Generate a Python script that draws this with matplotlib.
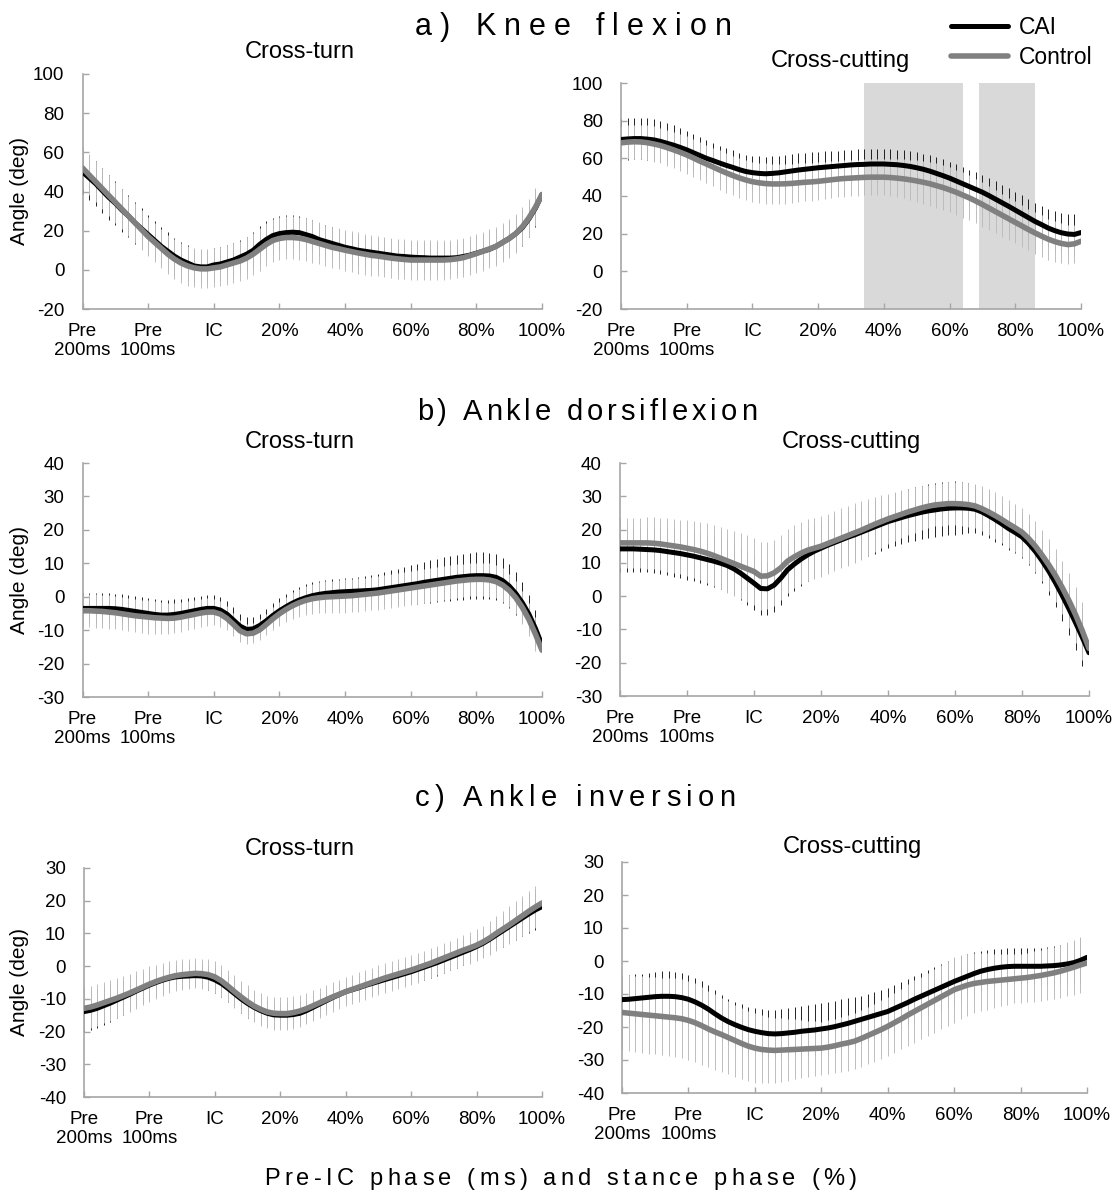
import numpy as np
import matplotlib
matplotlib.use('Agg')
import matplotlib.pyplot as plt

W, H = 1120, 1195

# x axis: pre-IC time (ms) every 10 ms, then stance phase (%) every 2 %
pre_ms = list(range(-200, 1, 10))
stance_pct = list(range(2, 101, 2))
tick_labels = ['Pre\n200ms', 'Pre\n100ms', 'IC', '20%', '40%', '60%', '80%', '100%']

# ---- a) knee flexion, cross-turn
knee_turn_cai = [50, 47, 44, 40.5, 37, 34, 30.5, 27.5, 24, 21, 18, 15, 12, 9.5, 7, 5, 3.5, 2, 1.5, 1.5, 2.5,
                 3, 4, 5, 6.5, 8, 10, 13, 15.5, 17.5, 18.5, 19, 19.2, 19, 18, 17, 15.5, 14.5, 13.5, 12.5, 11.5,
                 10.8, 10, 9.5, 9, 8.5, 8, 7.5, 7, 6.8, 6.5, 6.3, 6.2, 6, 6, 6, 6, 6.2, 6.8, 7.5, 8.5,
                 9.5, 10.5, 12, 14, 16, 18.5, 21.5, 26, 31.5, 38.5]
knee_turn_cai_sd = [11.5, 11.5, 11.5, 11.4, 11.3, 11.2, 11, 10.8, 10.6, 10.4, 10.2, 10, 9.8, 9.6, 9.4, 9.2, 9, 8.8, 8.6, 8.5, 8.5,
                    8.5, 8.5, 8.6, 8.8, 9, 9.2, 9.3, 9.3, 9.2, 9, 8.9, 8.8, 8.7, 8.6, 8.5, 8.4, 8.3, 8.2, 8.1, 8,
                    8, 8, 8, 8, 8, 8, 8, 8, 8, 8, 8, 8, 8, 8, 8, 8.1, 8.2, 8.3, 8.4, 8.5,
                    8.6, 8.7, 8.8, 8.9, 9, 9.1, 9.2, 9.3, 9.4, 9.5]
knee_turn_ctl = [52, 48.5, 45, 41.5, 38, 34.5, 31, 27.5, 24, 20.5, 17, 14, 11, 8, 5.5, 3.5, 2, 1, 0.5, 0.5, 1,
                 1.5, 2.5, 3.5, 4.5, 6, 8, 10.5, 13, 15, 16, 16.5, 16.5, 16.2, 15.5, 14.5, 13.5, 12.5, 11.5, 10.8, 10,
                 9.3, 8.6, 8, 7.4, 7, 6.5, 6, 5.6, 5.3, 5, 5, 5, 5, 5, 5, 5.2, 5.6, 6.2, 7.2, 8.3,
                 9.5, 10.7, 12, 14, 16, 18.5, 22, 26.5, 32, 38.5]
knee_turn_ctl_sd = [10.5, 10.5, 10.5, 10.5, 10.4, 10.4, 10.3, 10.3, 10.2, 10.2, 10.1, 10.1, 10, 10, 10, 10, 10, 10, 10, 10, 10,
                    10, 10, 10.2, 10.4, 10.6, 10.8, 11, 11, 11, 11, 11, 11, 11, 10.9, 10.8, 10.7, 10.6, 10.5, 10.5, 10.5,
                    10.5, 10.5, 10.5, 10.4, 10.4, 10.3, 10.3, 10.2, 10.2, 10.2, 10.2, 10.1, 10.1, 10, 10, 10, 10, 10, 10, 10,
                    10, 10, 10, 10, 10, 10, 9.9, 9.8, 9.7, 9.6]

# ---- a) knee flexion, cross-cutting
knee_cut_cai = [70, 70.3, 70.5, 70.5, 70.2, 69.8, 69, 68, 67, 65.8, 64.5, 63, 61.5, 60, 58.8, 57.5, 56.3, 55.2, 54, 53, 52.4,
                52, 51.8, 52, 52.3, 52.8, 53.3, 53.8, 54.2, 54.6, 55, 55.3, 55.6, 55.9, 56.2, 56.5, 56.7, 56.8, 57, 57, 57,
                56.8, 56.6, 56.2, 55.7, 55, 54.2, 53.2, 52, 50.8, 49.5, 48, 46.5, 45, 43.5, 42, 40.2, 38.3, 36.4, 34.5, 32.5,
                30.5, 28.5, 26.5, 24.8, 23, 21.6, 20.5, 19.8, 19.6, 20.6]
knee_cut_cai_sd = [11, 11, 11, 11, 11, 11, 10.9, 10.8, 10.6, 10.4, 10.2, 10, 9.8, 9.6, 9.4, 9.3, 9.2, 9.1, 9, 9, 9,
                   9, 9, 9, 9, 9, 8.9, 8.8, 8.7, 8.6, 8.5, 8.4, 8.3, 8.2, 8.1, 8, 8, 8, 8, 8, 8,
                   8, 8, 8, 8.1, 8.2, 8.3, 8.4, 8.5, 8.6, 8.7, 8.8, 8.9, 9, 9.1, 9.2, 9.3, 9.4, 9.5, 9.6, 9.7,
                   9.8, 9.9, 10, 10, 10, 10.2, 10.4, 10.6, 10.8, 11]
knee_cut_ctl = [68.2, 68.6, 68.8, 68.7, 68.3, 67.6, 66.8, 65.7, 64.5, 63.2, 61.8, 60.2, 58.5, 57, 55.4, 53.8, 52.3, 50.9, 49.6, 48.5, 47.6,
                47, 46.6, 46.4, 46.4, 46.5, 46.7, 47, 47.3, 47.5, 47.8, 48.2, 48.6, 49, 49.3, 49.5, 49.7, 49.9, 50, 50, 50,
                49.8, 49.5, 49.1, 48.6, 48, 47.3, 46.5, 45.5, 44.5, 43.3, 42, 40.5, 39, 37.3, 35.5, 33.6, 31.7, 29.8, 27.9, 26,
                24.1, 22.2, 20.4, 18.7, 17.1, 15.8, 14.8, 14.2, 14.6, 16]
knee_cut_ctl_sd = [9, 9, 9.1, 9.2, 9.3, 9.4, 9.5, 9.6, 9.7, 9.8, 9.9, 10, 10.1, 10.2, 10.3, 10.4, 10.5, 10.6, 10.7, 10.7, 10.7,
                   10.7, 10.7, 10.7, 10.6, 10.5, 10.4, 10.3, 10.2, 10.1, 10, 9.9, 9.8, 9.7, 9.6, 9.5, 9.5, 9.5, 9.5, 9.6, 9.7,
                   9.9, 10.1, 10.4, 10.7, 11, 11.3, 11.6, 11.8, 12, 12, 12, 12, 11.9, 11.8, 11.7, 11.6, 11.5, 11.4, 11.3, 11.2,
                   11.1, 11, 11, 11, 10.9, 10.8, 10.6, 10.4, 10.2, 10]
# stance-phase ranges (%) with a significant group difference
knee_cut_sig = [(34, 64), (69, 86)]

# ---- b) ankle dorsiflexion, cross-turn
dors_turn_cai = [-3.5, -3.5, -3.5, -3.5, -3.5, -3.6, -3.8, -4.1, -4.4, -4.7, -5, -5.3, -5.5, -5.5, -5.3, -5, -4.6, -4.2, -3.8, -3.5, -3.5,
                 -4, -5.2, -7, -8.8, -9.8, -9.6, -8.6, -7.2, -5.6, -4.2, -3, -1.9, -1, -0.3, 0.3, 0.7, 1, 1.2, 1.4, 1.5,
                 1.6, 1.7, 1.8, 1.9, 2.1, 2.4, 2.7, 3, 3.3, 3.6, 3.9, 4.3, 4.6, 4.9, 5.2, 5.5, 5.8, 6, 6.2, 6.3,
                 6.3, 6.2, 5.8, 4.8, 3.2, 1, -1.8, -5.2, -9.5, -14.5]
dors_turn_cai_sd = [4.5, 4.5, 4.5, 4.5, 4.5, 4.5, 4.5, 4.5, 4.5, 4.5, 4.5, 4.5, 4.5, 4.5, 4.5, 4.4, 4.3, 4.2, 4.1, 4, 4,
                    4, 3.9, 3.8, 3.7, 3.6, 3.5, 3.5, 3.5, 3.6, 3.7, 3.8, 3.9, 4, 4, 4, 4, 4, 4, 4, 4,
                    4.1, 4.2, 4.4, 4.6, 4.8, 5, 5.2, 5.4, 5.6, 5.8, 6, 6.2, 6.4, 6.5, 6.6, 6.7, 6.8, 6.9, 7, 7,
                    7, 7, 6.9, 6.8, 6.6, 6.4, 6.1, 5.8, 5.4, 5]
dors_turn_ctl = [-4.2, -4.2, -4.3, -4.4, -4.6, -4.8, -5.1, -5.4, -5.7, -5.9, -6.1, -6.3, -6.4, -6.5, -6.4, -6.1, -5.7, -5.3, -4.9, -4.6, -4.6,
                 -5.2, -6.5, -8.3, -10.2, -11.1, -10.9, -9.9, -8.3, -6.6, -5.1, -3.8, -2.7, -1.8, -1.1, -0.6, -0.3, -0.1, 0, 0.1, 0.2,
                 0.3, 0.5, 0.7, 0.9, 1.1, 1.4, 1.7, 2, 2.3, 2.6, 2.9, 3.2, 3.5, 3.8, 4.1, 4.4, 4.7, 4.9, 5.1, 5.2,
                 5.2, 5, 4.5, 3.5, 1.9, -0.3, -3.2, -6.8, -11.2, -16]
dors_turn_ctl_sd = [5, 5, 5, 5, 5, 5, 5, 5, 5, 5, 5, 4.9, 4.8, 4.7, 4.6, 4.5, 4.4, 4.3, 4.2, 4.1, 4,
                    3.8, 3.6, 3.4, 3.2, 3, 3, 3.1, 3.2, 3.4, 3.6, 3.8, 4, 4.2, 4.4, 4.5, 4.6, 4.7, 4.8, 4.9, 5,
                    5, 5, 5, 5, 5, 5, 5, 5, 5, 5, 5, 5, 5, 5, 5, 5, 5, 5, 5, 5,
                    5, 5, 5, 5, 5, 5, 5, 5, 5, 5]

# ---- b) ankle dorsiflexion, cross-cutting
dors_cut_cai = [14.2, 14.2, 14.2, 14.1, 14, 13.9, 13.7, 13.4, 13.1, 12.8, 12.4, 12, 11.5, 11, 10.5, 9.9, 9.2, 8.2, 6.9, 5.4, 3.9,
                2.3, 2.2, 3.3, 5.4, 7.9, 9.6, 11.1, 12.4, 13.5, 14.4, 15.3, 16.1, 16.9, 17.7, 18.4, 19.2, 20, 20.8, 21.6, 22.4,
                23, 23.6, 24.2, 24.7, 25.2, 25.6, 25.9, 26.2, 26.4, 26.5, 26.5, 26.4, 26.1, 25.3, 24.2, 23, 21.7, 20.3, 19.1, 17.8,
                15.8, 13.4, 10.6, 7.5, 4, 0.2, -3.8, -8, -12.4, -17]
dors_cut_cai_sd = [6.8, 6.8, 6.8, 6.8, 6.8, 6.9, 7, 7.1, 7.2, 7.3, 7.4, 7.5, 7.6, 7.7, 7.8, 7.9, 8, 8, 8, 8, 8,
                   8, 8, 8, 8, 8, 8, 8, 8, 8, 8, 8, 8, 8, 8, 8, 8, 8, 8, 8, 8,
                   8, 8, 8, 8, 8, 8, 8, 8, 8, 8, 7.8, 7.5, 7.2, 7, 6.8, 6.6, 6.4, 6.3, 6.2, 6.2,
                   6.3, 6.5, 6.8, 7.1, 7.4, 7.7, 8, 8.3, 8.5, 8.7]
dors_cut_ctl = [16, 16, 16, 16, 16, 15.9, 15.7, 15.4, 15.1, 14.8, 14.4, 14, 13.5, 12.9, 12.2, 11.4, 10.6, 9.8, 9, 8.2, 7.4,
                6, 6.1, 7, 8.5, 10.5, 11.8, 12.9, 13.8, 14.4, 15, 15.8, 16.6, 17.4, 18.2, 19, 19.8, 20.7, 21.6, 22.4, 23.2,
                23.9, 24.6, 25.3, 25.9, 26.5, 27, 27.4, 27.6, 27.8, 27.8, 27.7, 27.5, 27.1, 26.3, 25.3, 24.2, 23, 21.7, 20.5, 19.2,
                17.3, 15, 12.3, 9.4, 6.2, 2.6, -1.3, -5.6, -10.4, -15.7]
dors_cut_ctl_sd = [7.5, 7.5, 7.5, 7.6, 7.7, 7.8, 7.9, 8, 8.1, 8.2, 8.4, 8.6, 8.8, 9, 9.2, 9.4, 9.6, 9.8, 10, 10.1, 10.2,
                   10.2, 10.1, 10, 9.8, 9.6, 9.5, 9.4, 9.3, 9.2, 9.1, 9, 9, 9, 9, 9, 8.8, 8.5, 8.2, 7.9, 7.6,
                   7.4, 7.2, 7, 6.8, 6.6, 6.5, 6.4, 6.4, 6.4, 6.4, 6.5, 6.6, 6.7, 6.8, 6.9, 7, 7.1, 7.2, 7.3, 7.4,
                   7.5, 7.6, 7.7, 7.8, 7.9, 8, 8.2, 8.4, 8.7, 9]

# ---- c) ankle inversion, cross-turn
inv_turn_cai = [-13.9, -13.5, -12.9, -12.1, -11.3, -10.4, -9.5, -8.6, -7.6, -6.7, -5.8, -5, -4.3, -3.7, -3.3, -3.1, -3, -2.9, -3, -3.4, -4.2,
                -5.3, -6.8, -8.4, -10, -11.4, -12.6, -13.6, -14.4, -14.9, -15, -15, -14.8, -14.4, -13.6, -12.6, -11.6, -10.6, -9.6, -8.7, -7.8,
                -7.2, -6.6, -5.9, -5.3, -4.7, -4.1, -3.5, -2.9, -2.3, -1.7, -1, -0.3, 0.4, 1.1, 1.9, 2.7, 3.5, 4.3, 5.1, 6,
                7, 8.2, 9.5, 10.8, 12.1, 13.4, 14.7, 16, 17.2, 18.2]
inv_turn_cai_sd = [6.2, 6.1, 6, 5.9, 5.8, 5.6, 5.4, 5.2, 5, 4.8, 4.6, 4.4, 4.2, 4, 3.8, 3.7, 3.6, 3.6, 3.7, 3.8, 3.9,
                   4, 4.1, 4.2, 4.3, 4.3, 4.3, 4.2, 4.1, 4, 3.9, 3.8, 3.7, 3.6, 3.5, 3.5, 3.5, 3.5, 3.5, 3.5, 3.5,
                   3.5, 3.5, 3.5, 3.5, 3.5, 3.5, 3.5, 3.6, 3.7, 3.8, 3.9, 4, 4, 4, 4, 4, 4, 4, 4, 4,
                   4.2, 4.4, 4.6, 4.8, 5, 5.3, 5.6, 5.9, 6.2, 6.5]
inv_turn_ctl = [-12.9, -12.5, -11.9, -11.2, -10.5, -9.8, -9, -8.2, -7.3, -6.4, -5.5, -4.7, -4, -3.4, -2.9, -2.6, -2.4, -2.2, -2.3, -2.6, -3.3,
                -4.5, -6.1, -7.8, -9.4, -10.9, -12.2, -13.2, -14, -14.4, -14.5, -14.5, -14.2, -13.7, -13, -12.1, -11.2, -10.3, -9.4, -8.6, -7.8,
                -7.1, -6.4, -5.7, -5, -4.3, -3.6, -3, -2.4, -1.8, -1.2, -0.5, 0.2, 0.9, 1.7, 2.5, 3.3, 4.1, 4.9, 5.6, 6.4,
                7.4, 8.6, 10, 11.3, 12.6, 14, 15.4, 16.8, 18.1, 19.3]
inv_turn_ctl_sd = [6.6, 6.5, 6.4, 6.3, 6.2, 6.1, 6, 5.9, 5.8, 5.6, 5.4, 5.2, 5, 4.9, 4.8, 4.7, 4.6, 4.6, 4.6, 4.7, 4.8,
                   4.9, 5, 5, 5, 5, 5, 5, 5, 5, 5, 5, 5, 4.9, 4.8, 4.7, 4.6, 4.5, 4.5, 4.5, 4.5,
                   4.5, 4.5, 4.5, 4.5, 4.5, 4.5, 4.5, 4.5, 4.5, 4.5, 4.5, 4.5, 4.5, 4.5, 4.5, 4.5, 4.6, 4.7, 4.8, 4.9,
                   5, 5.1, 5.3, 5.5, 5.7, 5.9, 6.1, 6.3, 6.5, 6.7]

# ---- c) ankle inversion, cross-cutting
inv_cut_cai = [-11.7, -11.6, -11.4, -11.2, -11, -10.8, -10.7, -10.7, -10.8, -11.1, -11.6, -12.4, -13.4, -14.6, -16, -17.3, -18.4, -19.3, -20.1, -20.8, -21.3,
               -21.7, -22, -22.1, -22, -21.8, -21.6, -21.3, -21.1, -20.9, -20.6, -20.3, -19.9, -19.4, -18.9, -18.3, -17.7, -17.1, -16.5, -15.9, -15.3,
               -14.4, -13.5, -12.6, -11.6, -10.7, -9.8, -8.9, -8, -7.1, -6.2, -5.4, -4.6, -3.8, -3.1, -2.6, -2.2, -1.9, -1.7, -1.6, -1.6,
               -1.6, -1.6, -1.6, -1.5, -1.4, -1.2, -0.9, -0.5, 0.2, 1.1]
inv_cut_cai_sd = [7.3, 7.3, 7.4, 7.4, 7.5, 7.5, 7.6, 7.6, 7.6, 7.6, 7.5, 7.4, 7.3, 7.2, 7.1, 7, 7, 7, 7, 7, 7,
                  7.1, 7.2, 7.3, 7.4, 7.5, 7.6, 7.7, 7.8, 7.9, 8, 8, 7.9, 7.8, 7.6, 7.4, 7.2, 7.1, 7, 7, 7,
                  7, 7, 7, 7, 7, 7, 7, 7, 7, 7, 6.8, 6.6, 6.4, 6.2, 6, 5.8, 5.6, 5.5, 5.5, 5.5,
                  5.5, 5.5, 5.6, 5.7, 5.9, 6.1, 6.3, 6.5, 6.8, 7.1]
inv_cut_ctl = [-15.6, -15.8, -16, -16.2, -16.4, -16.6, -16.8, -17, -17.2, -17.5, -18, -18.7, -19.6, -20.6, -21.5, -22.3, -23.2, -24.1, -25, -25.8, -26.4,
               -26.8, -27, -27.1, -27, -26.9, -26.8, -26.7, -26.6, -26.5, -26.4, -26.1, -25.7, -25.2, -24.8, -24.3, -23.5, -22.6, -21.7, -20.8, -19.8,
               -18.7, -17.6, -16.4, -15.3, -14.2, -13.1, -12, -10.9, -9.8, -8.7, -8, -7.3, -6.8, -6.5, -6.2, -6, -5.8, -5.6, -5.4, -5.2,
               -5, -4.7, -4.4, -4, -3.6, -3.1, -2.5, -1.9, -1.2, -0.6]
inv_cut_ctl_sd = [11.5, 11.5, 11.6, 11.6, 11.7, 11.7, 11.8, 11.8, 11.9, 11.9, 12, 11.9, 11.8, 11.6, 11.4, 11.2, 11, 10.9, 10.8, 10.6, 10.5,
                  10.3, 10.1, 9.9, 9.7, 9.4, 9.1, 8.8, 8.5, 8.2, 8, 8.1, 8.2, 8.3, 8.4, 8.5, 8.6, 8.7, 8.8, 8.9, 9,
                  9.1, 9.2, 9.3, 9.4, 9.5, 9.6, 9.7, 9.8, 9.9, 10, 9.7, 9.4, 9.1, 8.8, 8.5, 8.2, 7.9, 7.6, 7.4, 7.4,
                  7.5, 7.6, 7.7, 7.8, 7.9, 8, 8.2, 8.3, 8.5, 8.6]

FONT = ['Liberation Sans', 'DejaVu Sans']
NARROW = ['Liberation Sans Narrow', 'Liberation Sans', 'DejaVu Sans']
plt.rcParams['font.family'] = FONT
plt.rcParams['axes.unicode_minus'] = False

CAI_COL = 'black'
CTL_COL = '#808080'
CTL_BAR = '#bdbdbd'
AXIS_COL = '#a6a6a6'


def stance_to_pos(p):
    return 2 + p / 20.0


x = np.array([(m + 200) / 100.0 for m in pre_ms] + [stance_to_pos(p) for p in stance_pct])


def add_ax(fig, l, t, r, b):
    return fig.add_axes([l / W, 1 - b / H, (r - l) / W, (b - t) / H])


def tracked_text(fig, s, xc, ybase, size, width):
    # letter-spaced heading: place glyphs one by one so the string spans `width` px
    r = fig.canvas.get_renderer()

    def w(txt):
        t = fig.text(0, 0, txt, fontsize=size, family=NARROW)
        ww = t.get_window_extent(r).width
        t.remove()
        return ww
    base = w('||')
    adv = [w('|' + ch + '|') - base for ch in s]
    track = (width - sum(adv[:-1]) - w(s[-1])) / (len(s) - 1)
    xx = xc - width / 2.0
    for ch, a in zip(s, adv):
        if ch != ' ':
            fig.text(xx / W, 1 - ybase / H, ch, fontsize=size, family=NARROW, ha='left', va='baseline')
        xx += a + track


fig = plt.figure(figsize=(W / 100, H / 100), dpi=100)

# (pixel box, cai, cai sd, ctl, ctl sd, y-range, subtitle, subtitle x / baseline, left column)
panels = [
    ((82.5, 74, 542, 309), knee_turn_cai, knee_turn_cai_sd, knee_turn_ctl, knee_turn_ctl_sd, (-20, 100, 20), 'Cross-turn', (300, 58), True),
    ((621, 83, 1081, 309), knee_cut_cai, knee_cut_cai_sd, knee_cut_ctl, knee_cut_ctl_sd, (-20, 100, 20), 'Cross-cutting', (840, 66.5), False),
    ((82.5, 463, 542, 697), dors_turn_cai, dors_turn_cai_sd, dors_turn_ctl, dors_turn_ctl_sd, (-30, 40, 10), 'Cross-turn', (300, 448), True),
    ((620, 463, 1089, 696), dors_cut_cai, dors_cut_cai_sd, dors_cut_ctl, dors_cut_ctl_sd, (-30, 40, 10), 'Cross-cutting', (851, 448), False),
    ((84, 868, 542, 1097), inv_turn_cai, inv_turn_cai_sd, inv_turn_ctl, inv_turn_ctl_sd, (-40, 30, 10), 'Cross-turn', (300, 855), True),
    ((622, 862, 1087, 1093), inv_cut_cai, inv_cut_cai_sd, inv_cut_ctl, inv_cut_ctl_sd, (-40, 30, 10), 'Cross-cutting', (852, 852.5), False),
]

handles = None
for k, (box, cai, cai_sd, ctl, ctl_sd, yr, sub, sxy, left_col) in enumerate(panels):
    ax = add_ax(fig, *box)
    cai = np.array(cai); cai_sd = np.array(cai_sd)
    ctl = np.array(ctl); ctl_sd = np.array(ctl_sd)

    if k == 1:
        for a, b in knee_cut_sig:
            ax.axvspan(stance_to_pos(a), stance_to_pos(b), color='#d9d9d9', lw=0, zorder=0)

    ax.vlines(x, cai - cai_sd, cai + cai_sd, color=CAI_COL, lw=0.6, zorder=1)
    ax.vlines(x, ctl - ctl_sd, ctl + ctl_sd, color=CTL_BAR, lw=0.7, zorder=2)
    l1, = ax.plot(x, cai, color=CAI_COL, lw=3.6, solid_capstyle='round', zorder=3)
    l2, = ax.plot(x, ctl, color=CTL_COL, lw=4.0, solid_capstyle='round', zorder=4)
    if handles is None:
        handles = [l1, l2]

    ax.set_xlim(0, 7)
    ax.set_ylim(yr[0], yr[1])
    ax.set_yticks(np.arange(yr[0], yr[1] + 1, yr[2]))
    ax.set_xticks(np.arange(8))
    ax.set_xticklabels(tick_labels, linespacing=1.15)
    for s in ['top', 'right']:
        ax.spines[s].set_visible(False)
    for s in ['left', 'bottom']:
        ax.spines[s].set_color(AXIS_COL)
        ax.spines[s].set_linewidth(1.2)
    ax.tick_params(direction='in', length=4, width=1, color=AXIS_COL, labelsize=13.5)
    ax.tick_params(axis='y', pad=13)
    ax.tick_params(axis='x', pad=10)
    if left_col:
        fig.text(20 / W, 1 - (box[1] + box[3]) / 2 / H, 'Angle (deg)', rotation=90,
                 ha='center', va='center', fontsize=15)
    fig.text(sxy[0] / W, 1 - sxy[1] / H, sub, ha='center', va='baseline', fontsize=17)

# section headings and shared x label (letter-spaced)
tracked_text(fig, 'a) Knee flexion', 573.5, 35, 22, 317)
tracked_text(fig, 'b) Ankle dorsiflexion', 587, 420, 21, 340)
tracked_text(fig, 'c) Ankle inversion', 575, 806, 21, 320)
tracked_text(fig, 'Pre-IC phase (ms) and stance phase (%)', 560.5, 1185, 17, 593)

fig.legend(handles, ['CAI', 'Control'], loc='upper left', bbox_to_anchor=(951 / W, 1 - 16 / H),
           frameon=False, fontsize=16.5, handlelength=2.5, handletextpad=0.45, labelspacing=0.3,
           borderaxespad=0, borderpad=0)

fig.savefig('out.png', dpi=100)
